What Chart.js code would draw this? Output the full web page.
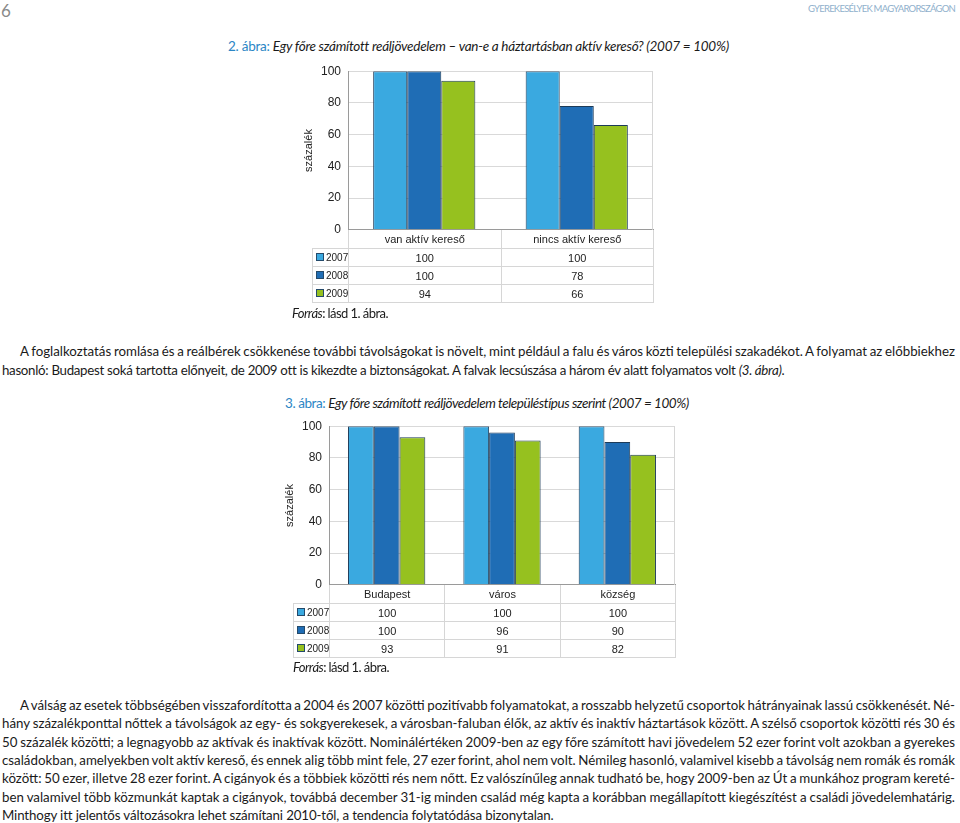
<!DOCTYPE html>
<html lang="hu">
<head>
  <meta charset="UTF-8">
  <title>Gyerekesélyek Magyarországon</title>
  <script src="https://cdn.jsdelivr.net/npm/chart.js"></script>
  <style>
    body { margin: 0; width: 960px; height: 823px; position: relative; background: #fff; overflow: hidden;
           font-family: Lato, "Liberation Sans", sans-serif; color: #1a1a1a; }
    .abs { position: absolute; white-space: nowrap; }
    .pagenum { left: 1px; top: 0px; font-size: 17px; color: #8a8a8a; }
    .runhead { left: 808px; top: 3px; font-size: 9.5px; color: #8fb0cc; }
    .figtitle { font-size: 13.5px; }
    .figtitle .num { color: #2b86c5; }
    .figtitle i { color: #1a1a1a; }
    .source { font-size: 13px; }
    .line { position: absolute; left: 2px; font-size: 13.3px; height: 18px; line-height: 18px; white-space: nowrap; }
    .line.indent { left: 20px; }
    canvas { position: absolute; }
    table.data { position: absolute; border-collapse: collapse; table-layout: fixed;
                 font-family: "Liberation Sans", Arial, sans-serif; color: #222; }
    table.data td { border: 1px solid #d6d6d6; text-align: center; padding: 0; font-size: 11px; white-space: nowrap; overflow: hidden; }
    table.data tr.head td { border-top: none; }
    table.data tr.head td.blank { border: none; border-right: 1px solid #d6d6d6; }
    table.data td.leg { text-align: left; font-size: 10px; padding-left: 3px; }
    .sw { display: inline-block; width: 6px; height: 6px; border: 1px solid #244a6b; margin-right: 2px; vertical-align: 0px; }
  </style>
</head>
<body>
  <div class="abs pagenum">6</div>
  <div class="abs runhead" data-fit="147" data-mode="letters">GYEREKESÉLYEK MAGYARORSZÁGON</div>

  <div class="abs figtitle" style="left:228px; top:38px;" data-fit="500" data-mode="letters"><span class="num">2. ábra:</span> <i>Egy főre számított reáljövedelem – van-e a háztartásban aktív kereső? (2007 = 100%)</i></div>
  <canvas id="chart1" width="360" height="187" style="left:302px; top:57px;"></canvas>
  <table class="data" id="table1"></table>
  <div class="abs source" style="left:292px; top:305px;" data-fit="96" data-mode="letters"><i>Forrás</i>: lásd 1. ábra.</div>

  <div class="line indent" style="top:342px;" data-fit="935">A foglalkoztatás romlása és a reálbérek csökkenése további távolságokat is növelt, mint például a falu és város közti települési szakadékot. A folyamat az előbbiekhez</div>
  <div class="line" style="top:360.5px;" data-fit="781" data-mode="letters">hasonló: Budapest soká tartotta előnyeit, de 2009 ott is kikezdte a biztonságokat. A falvak lecsúszása a három év alatt folyamatos volt <i>(3. ábra)</i>.</div>

  <div class="abs figtitle" style="left:285px; top:395px;" data-fit="403" data-mode="letters"><span class="num">3. ábra:</span> <i>Egy főre számított reáljövedelem településtípus szerint (2007 = 100%)</i></div>
  <canvas id="chart2" width="400" height="187" style="left:283px; top:412px;"></canvas>
  <table class="data" id="table2"></table>
  <div class="abs source" style="left:293px; top:659px;" data-fit="96" data-mode="letters"><i>Forrás</i>: lásd 1. ábra.</div>

  <div class="line indent" style="top:696px;" data-fit="935">A válság az esetek többségében visszafordította a 2004 és 2007 közötti pozitívabb folyamatokat, a rosszabb helyzetű csoportok hátrányainak lassú csökkenését. Né-</div>
  <div class="line" style="top:714.3px;" data-fit="953">hány százalékponttal nőttek a távolságok az egy- és sokgyerekesek, a városban-faluban élők, az aktív és inaktív háztartások között. A szélső csoportok közötti rés 30 és</div>
  <div class="line" style="top:732.6px;" data-fit="953">50 százalék közötti; a legnagyobb az aktívak és inaktívak között. Nominálértéken 2009-ben az egy főre számított havi jövedelem 52 ezer forint volt azokban a gyerekes</div>
  <div class="line" style="top:750.9px;" data-fit="953">családokban, amelyekben volt aktív kereső, és ennek alig több mint fele, 27 ezer forint, ahol nem volt. Némileg hasonló, valamivel kisebb a távolság nem romák és romák</div>
  <div class="line" style="top:769.2px;" data-fit="953">között: 50 ezer, illetve 28 ezer forint. A cigányok és a többiek közötti rés nem nőtt. Ez valószínűleg annak tudható be, hogy 2009-ben az Út a munkához program kereté-</div>
  <div class="line" style="top:787.5px;" data-fit="953">ben valamivel több közmunkát kaptak a cigányok, továbbá december 31-ig minden család még kapta a korábban megállapított kiegészítést a családi jövedelemhatárig.</div>
  <div class="line" style="top:805.8px;" data-fit="551" data-mode="letters">Minthogy itt jelentős változásokra lehet számítani 2010-től, a tendencia folytatódása bizonytalan.</div>

  <script>
    // series (years) and colours
    const years = ['2007', '2008', '2009'];
    const yearColors = ['#3aa9e0', '#1f6db5', '#96c11f'];

    // 2. ábra
    const chart1Categories = ['van aktív kereső', 'nincs aktív kereső'];
    const chart1Y2007 = [100, 100];
    const chart1Y2008 = [100, 78];
    const chart1Y2009 = [94, 66];

    // 3. ábra
    const chart2Categories = ['Budapest', 'város', 'község'];
    const chart2Y2007 = [100, 100, 100];
    const chart2Y2008 = [100, 96, 90];
    const chart2Y2009 = [93, 91, 82];

    const yMin = 0, yMax = 100, yStep = 20;

    // right edge of the plot area is framed too
    const frameRight = {
      id: 'frameRight',
      afterDraw(chart) {
        const a = chart.chartArea, ctx = chart.ctx;
        ctx.save();
        ctx.strokeStyle = '#d6d6d6';
        ctx.lineWidth = 1;
        ctx.beginPath();
        ctx.moveTo(Math.round(a.right) - 0.5, a.top);
        ctx.lineTo(Math.round(a.right) - 0.5, a.bottom);
        ctx.stroke();
        ctx.restore();
      }
    };

    function makeChart(canvasId, tableId, categories, series, axisWidth, padRight) {
      const canvas = document.getElementById(canvasId);
      const chart = new Chart(canvas.getContext('2d'), {
        type: 'bar',
        data: {
          labels: categories,
          datasets: series.map((vals, i) => ({
            label: years[i],
            data: vals,
            backgroundColor: yearColors[i],
            borderColor: '#1d3b58',
            borderWidth: 1,
            categoryPercentage: 0.67,
            barPercentage: 1.0
          }))
        },
        options: {
          responsive: false,
          animation: false,
          devicePixelRatio: 1,
          layout: { padding: { top: 12, right: padRight, bottom: 1, left: 0 } },
          plugins: { legend: { display: false }, tooltip: { enabled: false } },
          scales: {
            x: {
              grid: { display: false, drawTicks: false },
              ticks: { display: false },
              border: { color: '#9a9a9a' }
            },
            y: {
              min: yMin, max: yMax,
              ticks: { stepSize: yStep, color: '#222', padding: 7,
                       font: { family: 'Liberation Sans', size: 12 } },
              grid: { color: '#d9d9d9', drawTicks: false },
              border: { color: '#9a9a9a' },
              title: { display: true, text: 'százalék', color: '#222',
                       font: { family: 'Liberation Sans', size: 11 }, padding: { top: 0, bottom: 0 } },
              afterFit(axis) { axis.width = axisWidth; }
            }
          }
        },
        plugins: [frameRight]
      });

      // data table under the chart, aligned to the plot area
      const a = chart.chartArea;
      const left = canvas.offsetLeft, top = canvas.offsetTop;
      const legW = 36;
      const colW = (a.right - a.left) / categories.length;
      const table = document.getElementById(tableId);
      table.style.left = (left + a.left - legW) + 'px';
      table.style.top = (top + a.bottom) + 'px';
      table.style.width = (legW + colW * categories.length) + 'px';
      let html = '<colgroup><col style="width:' + legW + 'px">';
      categories.forEach(() => { html += '<col style="width:' + colW + 'px">'; });
      html += '</colgroup><tr class="head" style="height:19px"><td class="blank"></td>';
      categories.forEach(c => { html += '<td>' + c + '</td>'; });
      html += '</tr>';
      series.forEach((vals, i) => {
        html += '<tr style="height:18px"><td class="leg"><span class="sw" style="background:' + yearColors[i] + '"></span>' + years[i] + '</td>';
        vals.forEach(v => { html += '<td>' + v + '</td>'; });
        html += '</tr>';
      });
      table.innerHTML = html;
      return chart;
    }

    makeChart('chart1', 'table1', chart1Categories, [chart1Y2007, chart1Y2008, chart1Y2009], 46, 9);
    makeChart('chart2', 'table2', chart2Categories, [chart2Y2007, chart2Y2008, chart2Y2009], 46, 8);

    // stretch or squeeze text lines to the widths they have on the page
    function fitText() {
      document.querySelectorAll('[data-fit]').forEach(el => {
        el.style.wordSpacing = '';
        el.style.letterSpacing = '';
        const target = parseFloat(el.dataset.fit);
        const w = el.getBoundingClientRect().width;
        const text = el.textContent;
        if (el.dataset.mode === 'letters') {
          el.style.letterSpacing = ((target - w) / text.length) + 'px';
        } else {
          const spaces = (text.match(/ /g) || []).length;
          el.style.wordSpacing = ((target - w) / spaces) + 'px';
        }
      });
    }
    fitText();
    document.fonts.ready.then(fitText);
  </script>
</body>
</html>
